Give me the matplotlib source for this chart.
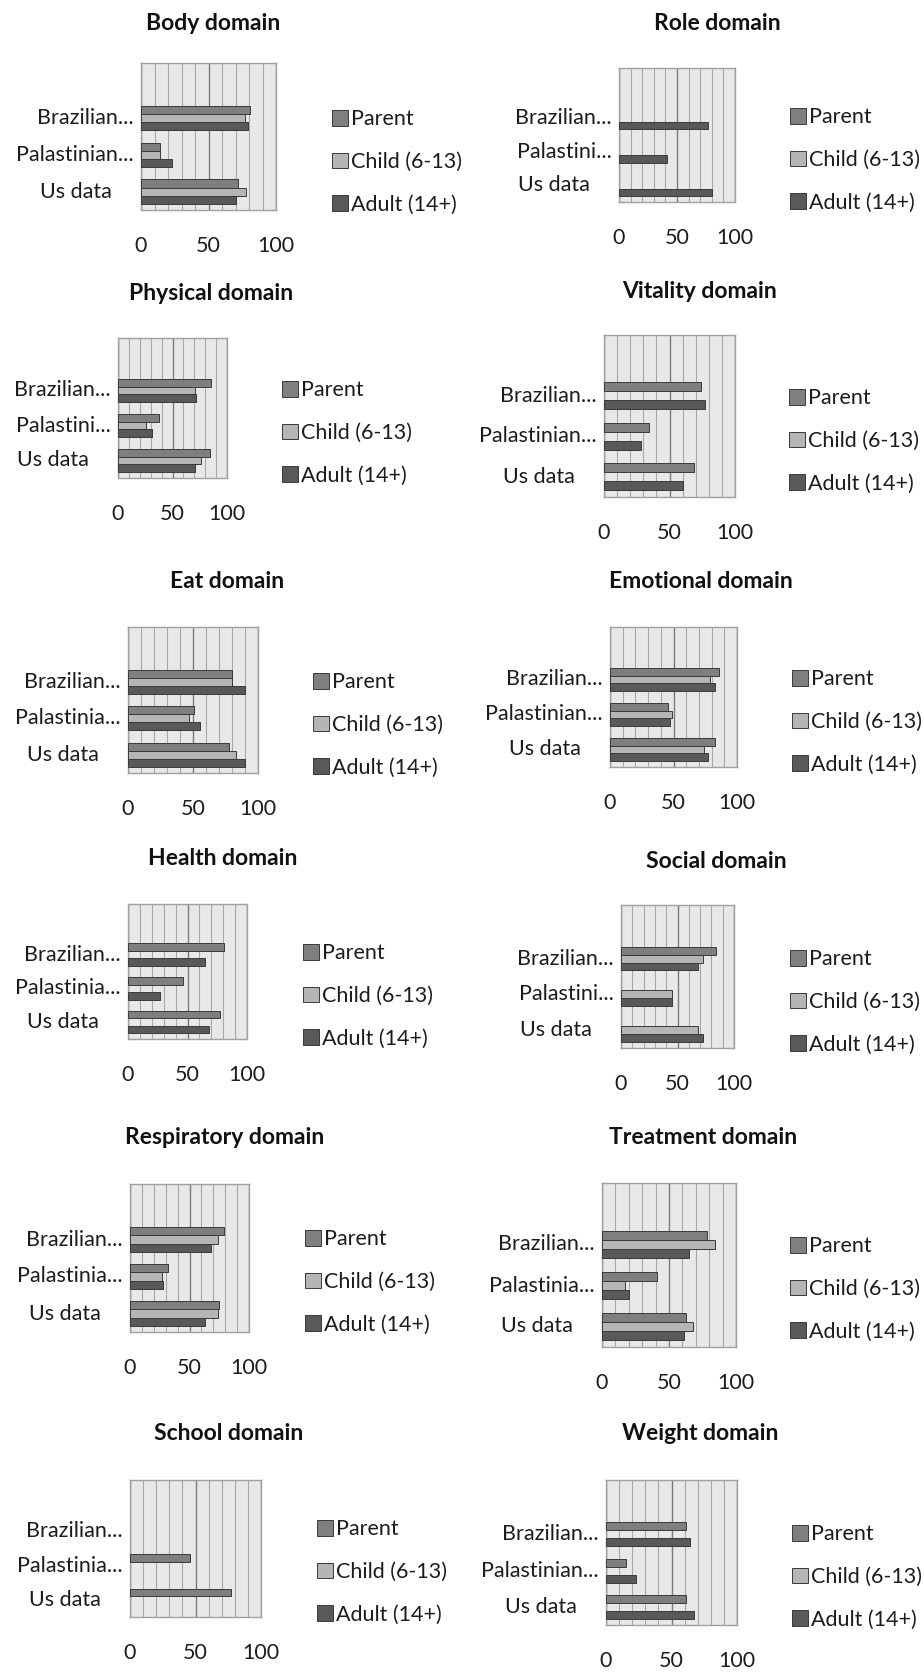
import numpy as np
import matplotlib
matplotlib.use("Agg")
import matplotlib.pyplot as plt
from matplotlib.patches import Patch
from matplotlib.transforms import offset_copy

plt.rcParams['font.family'] = ['Lato', 'DejaVu Sans']

series = ['Parent', 'Child (6-13)', 'Adult (14+)']
colors = ['#7f7f7f', '#b5b5b5', '#595959']

# values per domain: [Parent, Child, Adult], each as [Brazilian, Palastinian, Us data]
body = [[81, 14, 72], [77, 14, 78], [79, 23, 70]]
role = [[None, None, None], [None, None, None], [77, 41, 80]]
physical = [[85, 38, 84], [71, 26, 76], [72, 31, 71]]
vitality = [[74, 34, 69], [None, None, None], [77, 28, 60]]
eat = [[80, 51, 78], [80, 47, 83], [90, 55, 90]]
emotional = [[86, 46, 83], [79, 49, 74], [83, 47, 77]]
health = [[81, 46, 77], [None, None, None], [65, 27, 68]]
social = [[84, None, None], [73, 45, 68], [68, 45, 73]]
respiratory = [[79, 32, 75], [74, 27, 74], [68, 28, 63]]
treatment = [[78, 41, 63], [84, 17, 68], [65, 20, 61]]
school = [[None, 46, 77], [None, None, None], [None, None, None]]
weight = [[61, 15, 61], [None, None, None], [64, 23, 67]]

domains = ['Body domain', 'Role domain', 'Physical domain', 'Vitality domain',
           'Eat domain', 'Emotional domain', 'Health domain', 'Social domain',
           'Respiratory domain', 'Treatment domain', 'School domain', 'Weight domain']
domain_values = [body, role, physical, vitality, eat, emotional, health, social,
                 respiratory, treatment, school, weight]
pal_labels = ['Palastinian...', 'Palastini...', 'Palastini...', 'Palastinian...',
              'Palastinia...', 'Palastinian...', 'Palastinia...', 'Palastini...',
              'Palastinia...', 'Palastinia...', 'Palastinia...', 'Palastinian...']

W, H = 924, 1672
# plot box (left, top, right, bottom), title centre, legend x / middle row y, all in pixels
layout = [
    ((141, 63, 276, 210), (213, 23), (332, 162)),
    ((619, 68, 735, 202), (717, 23), (790, 160)),
    ((118, 338, 227, 478), (211, 293), (282, 433)),
    ((604, 335, 735, 497), (699, 291), (789, 441)),
    ((128, 627, 258, 773), (227, 582), (313, 725)),
    ((610, 627, 737, 767), (701, 582), (792, 722)),
    ((128, 904, 247, 1039), (223, 859), (303, 996)),
    ((621, 905, 734, 1048), (716, 861), (790, 1002)),
    ((130, 1184, 249, 1332), (225, 1138), (305, 1282)),
    ((602, 1183, 736, 1347), (703, 1137), (790, 1289)),
    ((130, 1480, 261, 1617), (229, 1434), (317, 1572)),
    ((606, 1480, 737, 1625), (700, 1434), (792, 1577)),
]

txt = '#1c1c1c'
fig = plt.figure(figsize=(W / 100, H / 100), dpi=100)

ypos = np.array([2, 1, 0])
offsets = [0.22, 0.0, -0.22]
bar_h = 0.22

for name, vals, pal, (box, tpos, lpos) in zip(domains, domain_values, pal_labels, layout):
    l, t, r, b = box
    ax = fig.add_axes([l / W, 1 - b / H, (r - l) / W, (b - t) / H])
    ax.set_facecolor('#e8e8e8')
    for k in range(3):
        for j in range(3):
            v = vals[k][j]
            if v is None:
                continue
            ax.barh(ypos[j] + offsets[k], v, height=bar_h, color=colors[k],
                    edgecolor='#3a3a3a', linewidth=0.7, zorder=3)
    ax.set_xlim(0, 100)
    ax.set_ylim(-0.5, 3.5)
    ax.set_xticks([0, 50, 100])
    ax.set_xticks(np.arange(10, 100, 10), minor=True)
    ax.grid(True, axis='x', which='minor', color='#a8a8a8', linewidth=0.8, zorder=0)
    ax.grid(True, axis='x', which='major', color='#7a7a7a', linewidth=1.0, zorder=0)
    ax.set_yticks([])
    ax.tick_params(axis='x', which='both', length=0, pad=19, labelsize=15.5, labelcolor=txt)
    for s in ax.spines.values():
        s.set_color('#a0a0a0')
        s.set_linewidth(1.0)

    # category labels: truncated names hug the axis, the short one is centred in its box
    trans = ax.get_yaxis_transform()
    cats = ['Brazilian...', pal, 'Us data']
    for y, lab in zip(ypos, cats):
        if lab.endswith('...'):
            tr = offset_copy(trans, fig=fig, x=-7, y=0, units='dots')
            ax.text(0, y, lab, transform=tr, ha='right', va='center', fontsize=15.5, color=txt)
        else:
            tr = offset_copy(trans, fig=fig, x=-65, y=0, units='dots')
            ax.text(0, y, lab, transform=tr, ha='center', va='center', fontsize=15.5, color=txt)

    fig.text(tpos[0] / W, 1 - tpos[1] / H, name, ha='center', va='center',
             fontsize=16.5, fontweight='bold', color='#111111')

    handles = [Patch(facecolor=c, edgecolor='#3a3a3a', linewidth=0.7) for c in colors]
    ax.legend(handles, series, loc='center left',
              bbox_to_anchor=(lpos[0] / W, 1 - lpos[1] / H), bbox_transform=fig.transFigure,
              frameon=False, borderpad=0, borderaxespad=0, fontsize=15.5,
              handlelength=0.72, handleheight=0.72, handletextpad=0.15,
              labelspacing=1.05, labelcolor=txt)

fig.savefig('out.png', dpi=100)
